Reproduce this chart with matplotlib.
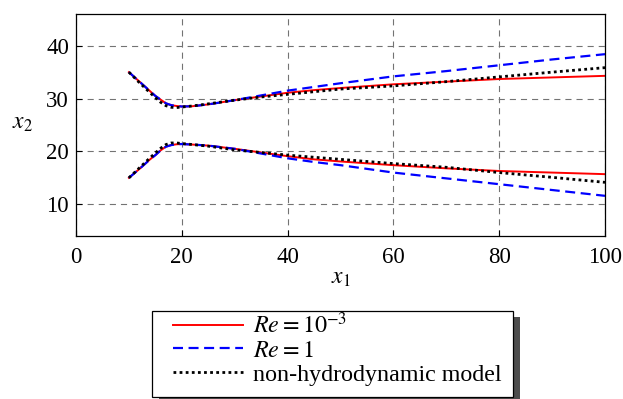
import numpy as np
import matplotlib
matplotlib.use('Agg')
import matplotlib.pyplot as plt
from matplotlib.patches import Rectangle

plt.rcParams['font.family'] = 'serif'
plt.rcParams['font.serif'] = ['Liberation Serif', 'DejaVu Serif']
plt.rcParams['mathtext.fontset'] = 'stix'

# curve data (x1 positions and x2 values)
x_pts = [10, 12, 14, 15, 16, 17, 18, 19, 20, 22, 25, 30, 35, 40, 45, 50, 60, 70, 80, 90, 100]

# upper branch
up_red = [35.0, 33.2, 31.4, 30.5, 29.8, 29.1, 28.75, 28.6, 28.5, 28.55, 28.9, 29.7, 30.4, 31.1, 31.6, 32.0, 32.7, 33.2, 33.7, 34.0, 34.3]
up_blue = [35.0, 33.2, 31.4, 30.5, 29.8, 29.1, 28.75, 28.6, 28.5, 28.55, 28.9, 29.7, 30.6, 31.5, 32.2, 32.9, 34.2, 35.2, 36.3, 37.4, 38.4]
up_black = [35.0, 33.0, 31.1, 30.2, 29.3, 28.65, 28.35, 28.3, 28.4, 28.6, 29.0, 29.7, 30.3, 30.8, 31.3, 31.8, 32.4, 33.2, 34.1, 35.0, 35.85]

# lower branch
lo_red = [15.0, 16.7, 18.5, 19.3, 20.2, 20.9, 21.2, 21.35, 21.4, 21.3, 21.1, 20.5, 19.8, 19.1, 18.5, 18.1, 17.4, 16.8, 16.3, 16.0, 15.7]
lo_blue = [15.0, 16.7, 18.5, 19.3, 20.2, 20.9, 21.2, 21.35, 21.4, 21.3, 21.1, 20.5, 19.6, 18.7, 18.0, 17.4, 16.0, 14.9, 13.8, 12.7, 11.6]
lo_black = [15.0, 16.9, 18.8, 19.7, 20.6, 21.3, 21.6, 21.6, 21.5, 21.3, 21.0, 20.3, 19.8, 19.3, 18.9, 18.5, 17.7, 17.0, 16.0, 15.1, 14.15]

labels = [r'$Re = 10^{-3}$', r'$Re = 1$', 'non-hydrodynamic model']
x_ticks = [0, 20, 40, 60, 80, 100]
y_ticks = [10, 20, 30, 40]

W, H = 623, 399
fig = plt.figure(figsize=(W / 100, H / 100), dpi=100)
ax = fig.add_axes([76 / W, 1 - 236 / H, (605 - 76) / W, (236 - 14) / H])

red_kw = dict(color='red', lw=1.4, ls='-')
blue_kw = dict(color='blue', lw=1.6, ls=(0, (4.5, 2.5)))
black_kw = dict(color='black', lw=2.0, ls=(0, (1, 1.2)))

l1, = ax.plot(x_pts, up_red, **red_kw)
ax.plot(x_pts, lo_red, **red_kw)
l2, = ax.plot(x_pts, up_blue, **blue_kw)
ax.plot(x_pts, lo_blue, **blue_kw)
l3, = ax.plot(x_pts, up_black, **black_kw)
ax.plot(x_pts, lo_black, **black_kw)

ax.set_xlim(0, 100)
ax.set_ylim(4, 46)
ax.set_xticks(x_ticks)
ax.set_yticks(y_ticks)
ax.tick_params(direction='in', length=4, width=0.8, labelsize=16.5)
ax.tick_params(axis='x', pad=8)
ax.tick_params(axis='y', pad=5)
ax.grid(True, color='0.45', lw=0.8, ls=(0, (5.5, 4.5)))
for s in ax.spines.values():
    s.set_linewidth(0.9)

ax.set_xlabel(r'$x_1$', fontsize=17)
ax.xaxis.set_label_coords(0.5, -0.145)
ax.set_ylabel(r'$x_2$', fontsize=17, rotation=0)
ax.yaxis.set_label_coords(-0.102, 0.458)

# legend frame with shadow drawn by hand
bx0, by0, bw, bh = 152 / W, 1 - 397 / H, (513 - 152) / W, (397 - 311) / H
fig.patches.append(Rectangle((bx0 + 7 / W, by0 - 6 / H), bw, bh, transform=fig.transFigure,
                             facecolor='0.3', edgecolor='none', zorder=1))
fig.patches.append(Rectangle((bx0, by0), bw, bh, transform=fig.transFigure,
                             facecolor='white', edgecolor='black', lw=0.9, zorder=2))

fig.legend([l1, l2, l3], labels, loc='center left',
           bbox_to_anchor=(173 / W, 1 - 349 / H), bbox_transform=fig.transFigure,
           frameon=False, fontsize=17.3, borderpad=0, borderaxespad=0,
           handlelength=2.9, handletextpad=0.45, labelspacing=0.08)

fig.savefig('out.png', dpi=100)
